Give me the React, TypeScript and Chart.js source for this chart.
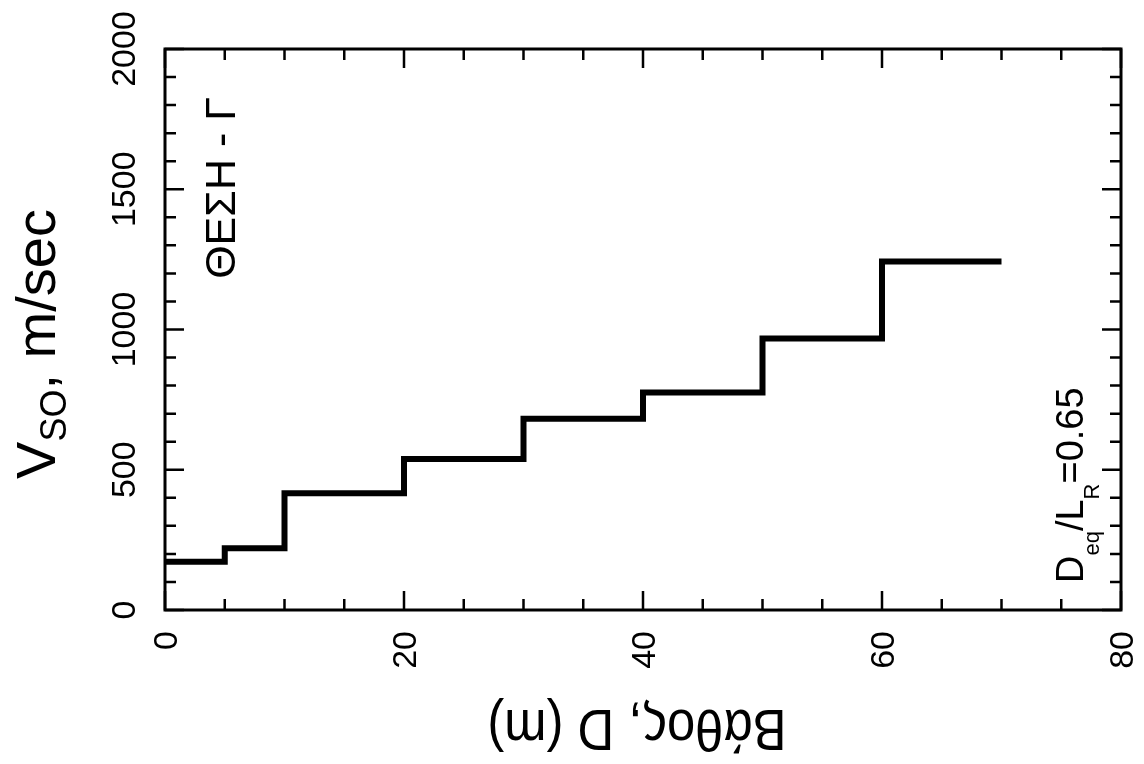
import React, { useEffect, useRef } from "react";
import { Chart, registerables } from "chart.js";

Chart.register(...registerables);

// ---- data ----
const layerTopDepths = [0, 5, 10, 20, 30, 40, 50, 60];
const layerEndDepth = 70;
const vsoValues = [172, 220, 416, 538, 682, 775, 968, 1242];

const xMajorTicks = [0, 20, 40, 60, 80];
const xTickLabels = ["0", "20", "40", "60", "80"];
const xMinorTicks = [5, 10, 15, 25, 30, 35, 45, 50, 55, 65, 70, 75];
const yMajorTicks = [0, 500, 1000, 1500, 2000];
const yTickLabels = ["0", "500", "1000", "1500", "2000"];
const yMinorTicks = [100, 200, 300, 400, 600, 700, 800, 900, 1100, 1200, 1300, 1400, 1600, 1700, 1800, 1900];

const xTitle = "Βάθος, D (m)";
const yTitleMain = "V";
const yTitleSub = "SO";
const yTitleRest = ", m/sec";
const siteLabel = "ΘΕΣΗ - Γ";
const ratioParts = ["D", "eq", "/L", "R", "=0.65"];

const FONT = '"Liberation Sans", Arial, Helvetica, sans-serif';

type Part = { t: string; size: number; dy: number };

function drawRich(
  ctx: CanvasRenderingContext2D,
  parts: Part[],
  x: number,
  y: number,
  rot: number,
  align: "left" | "center" | "right",
  sx = 1
) {
  ctx.save();
  ctx.translate(x, y);
  ctx.rotate(rot);
  ctx.scale(sx, 1);
  let total = 0;
  const widths = parts.map((p) => {
    ctx.font = `${p.size}px ${FONT}`;
    const w = ctx.measureText(p.t).width;
    total += w;
    return w;
  });
  let u = align === "left" ? 0 : align === "center" ? -total / 2 : -total;
  ctx.textAlign = "left";
  ctx.textBaseline = "alphabetic";
  ctx.fillStyle = "#000";
  parts.forEach((p, i) => {
    ctx.font = `${p.size}px ${FONT}`;
    ctx.fillText(p.t, u, p.dy);
    u += widths[i];
  });
  ctx.restore();
}

const framePlugin = {
  id: "frameTicks",
  afterDatasetsDraw(chart: any) {
    const { ctx, chartArea: a, scales } = chart;
    const xs = scales.x;
    const ys = scales.y;
    ctx.save();
    ctx.strokeStyle = "#000";
    ctx.lineCap = "butt";
    ctx.lineWidth = 3;
    ctx.strokeRect(a.left, a.top, a.right - a.left, a.bottom - a.top);

    ctx.lineWidth = 2.5;
    ctx.beginPath();
    const xTick = (v: number, len: number) => {
      const px = xs.getPixelForValue(v);
      ctx.moveTo(px, a.bottom);
      ctx.lineTo(px, a.bottom - len);
      ctx.moveTo(px, a.top);
      ctx.lineTo(px, a.top + len);
    };
    const yTick = (v: number, len: number) => {
      const py = ys.getPixelForValue(v);
      ctx.moveTo(a.left, py);
      ctx.lineTo(a.left + len, py);
      ctx.moveTo(a.right, py);
      ctx.lineTo(a.right - len, py);
    };
    xMajorTicks.forEach((v) => xTick(v, 19));
    xMinorTicks.forEach((v) => xTick(v, 11));
    yMajorTicks.forEach((v) => yTick(v, 19));
    yMinorTicks.forEach((v) => yTick(v, 11));
    ctx.stroke();

    // tick labels (rotated, reading upward)
    xMajorTicks.forEach((v, i) => {
      const px = xs.getPixelForValue(v);
      drawRich(ctx, [{ t: xTickLabels[i], size: 34, dy: 0 }], px + 12, a.bottom + 21, -Math.PI / 2, "right");
    });
    yMajorTicks.forEach((v, i) => {
      const py = ys.getPixelForValue(v);
      drawRich(ctx, [{ t: yTickLabels[i], size: 34, dy: 0 }], a.left - 30, py, -Math.PI / 2, "center");
    });

    // y title
    drawRich(
      ctx,
      [
        { t: yTitleMain, size: 56, dy: 0 },
        { t: yTitleSub, size: 36, dy: 11 },
        { t: yTitleRest, size: 56, dy: 0 },
      ],
      55,
      344,
      -Math.PI / 2,
      "center"
    );

    // x title (upside down)
    drawRich(ctx, [{ t: xTitle, size: 58, dy: 0 }], 637, 710, Math.PI, "center", 0.875);

    // site label
    drawRich(ctx, [{ t: siteLabel, size: 43, dy: 0 }], 235, 188, -Math.PI / 2, "center");

    // ratio label
    drawRich(
      ctx,
      [
        { t: ratioParts[0], size: 38, dy: 0 },
        { t: ratioParts[1], size: 22, dy: 16 },
        { t: ratioParts[2], size: 38, dy: 0 },
        { t: ratioParts[3], size: 22, dy: 16 },
        { t: ratioParts[4], size: 38, dy: 0 },
      ],
      1083,
      583,
      -Math.PI / 2,
      "left"
    );
    ctx.restore();
  },
};

export default function App() {
  const ref = useRef<HTMLCanvasElement | null>(null);
  useEffect(() => {
    if (!ref.current) return;
    const points = layerTopDepths.map((d, i) => ({ x: d, y: vsoValues[i] }));
    points.push({ x: layerEndDepth, y: vsoValues[vsoValues.length - 1] });
    const chart = new Chart(ref.current, {
      type: "line",
      data: {
        datasets: [
          {
            data: points,
            borderColor: "#000",
            borderWidth: 6,
            pointRadius: 0,
            stepped: true,
            fill: false,
            borderCapStyle: "butt",
            borderJoinStyle: "miter",
          } as any,
        ],
      },
      options: {
        responsive: false,
        animation: false,
        devicePixelRatio: 1,
        layout: { padding: { left: 165, top: 49, right: 23, bottom: 154 } },
        plugins: { legend: { display: false }, tooltip: { enabled: false } },
        scales: {
          x: { type: "linear", min: 0, max: 80, display: false },
          y: { type: "linear", min: 0, max: 2000, display: false },
        },
      },
      plugins: [framePlugin],
    });
    return () => chart.destroy();
  }, []);
  return (
    <div style={{ position: "absolute", left: 0, top: 0, width: 1144, height: 764, background: "#fff" }}>
      <canvas ref={ref} width={1144} height={764} />
    </div>
  );
}
